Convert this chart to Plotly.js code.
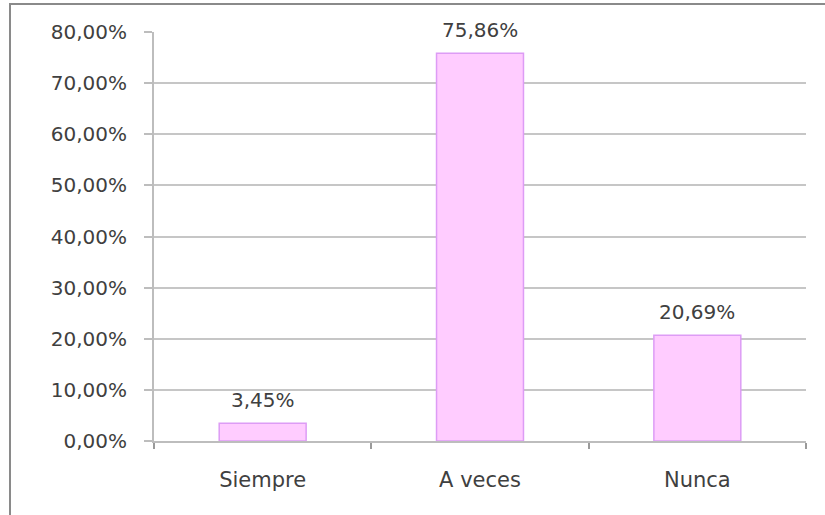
<!DOCTYPE html>
<html>
<head>
<meta charset="utf-8">
<script src="https://cdn.plot.ly/plotly-3.0.1.min.js"></script>
<style>
  html, body { margin: 0; padding: 0; background: #fff; }
  #wrap { position: relative; width: 825px; height: 515px; overflow: hidden; }
  #frame { position: absolute; left: 9px; top: 3px; width: 900px; height: 600px;
           border-left: 2px solid #8a8a8a; border-top: 2px solid #8a8a8a; pointer-events: none; }
  #chart { position: absolute; left: 0; top: 0; width: 825px; height: 515px; }
</style>
</head>
<body>
<div id="wrap">
  <div id="chart"></div>
  <div id="frame"></div>
</div>
<script>
const categories = ["Siempre", "A veces", "Nunca"];
const values = [3.45, 75.86, 20.69];
const yTicks = [0, 10, 20, 30, 40, 50, 60, 70, 80];

const fmt = v => v.toFixed(2).replace('.', ',') + '%';

const trace = {
  type: 'bar',
  x: categories,
  y: values,
  marker: { color: '#ffccff', line: { color: '#dd9cf5', width: 1.5 } },
  hoverinfo: 'none'
};

const annotations = categories.map((c, i) => ({
  x: c, y: values[i], xref: 'x', yref: 'y',
  text: fmt(values[i]), showarrow: false,
  yanchor: 'bottom', yshift: 9,
  font: { family: 'DejaVu Sans, Verdana, sans-serif', size: 20, color: '#404040' }
}));

const layout = {
  width: 825, height: 515,
  margin: { l: 154, r: 19, t: 32, b: 74, pad: 0 },
  paper_bgcolor: '#ffffff', plot_bgcolor: '#ffffff',
  separators: ',.',
  showlegend: false,
  bargap: 0.6,
  font: { family: 'DejaVu Sans, Verdana, sans-serif', size: 20, color: '#404040' },
  xaxis: {
    type: 'category',
    showline: true, linecolor: '#bdbdbd', linewidth: 2,
    ticks: 'outside', tickson: 'boundaries', ticklen: 6, tickcolor: '#9a9a9a', tickwidth: 2,
    ticklabelstandoff: 19,
    tickfont: { family: 'DejaVu Sans, Verdana, sans-serif', size: 21, color: '#404040' },
    showgrid: false, fixedrange: true
  },
  yaxis: {
    range: [0, 80],
    tickvals: yTicks,
    ticktext: yTicks.map(fmt),
    showline: true, linecolor: '#bdbdbd', linewidth: 2,
    ticks: 'outside', ticklen: 8, tickcolor: '#bdbdbd', tickwidth: 2,
    ticklabelstandoff: 13,
    showgrid: true, gridcolor: '#c6c6c6', gridwidth: 2,
    zeroline: false,
    tickfont: { family: 'DejaVu Sans, Verdana, sans-serif', size: 20, color: '#404040' },
    fixedrange: true
  },
  annotations: annotations
};

Plotly.newPlot('chart', [trace], layout, { displayModeBar: false, staticPlot: true });
</script>
</body>
</html>
